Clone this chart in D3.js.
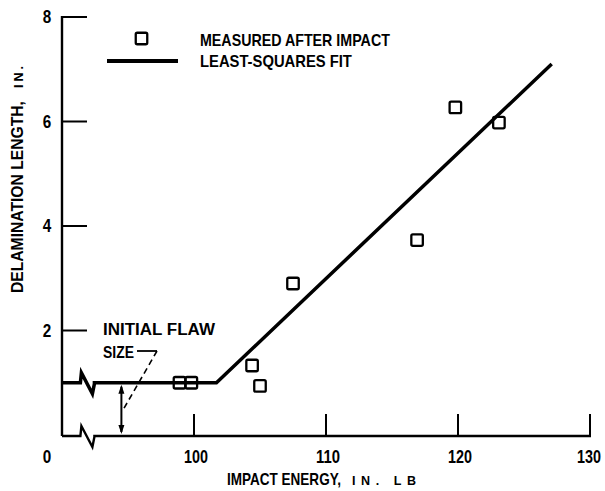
<!DOCTYPE html>
<html><head><meta charset="utf-8">
<script src="https://cdn.jsdelivr.net/npm/d3@7"></script>
<style>
html,body{margin:0;padding:0;background:#fff;}
text{font-family:"Liberation Sans",Arial,sans-serif;fill:#000;}
</style></head>
<body><svg id="c" width="605" height="491"></svg>
<script>
// Data
const energy = [98.9, 99.8, 104.4, 105.0, 107.5, 116.9, 119.8, 123.1];
const delamination = [1.0, 1.0, 1.33, 0.94, 2.9, 3.73, 6.27, 5.98];
const fitEnergy = [101.7, 127.1];
const fitDelam = [1.0, 7.1];
const flawSize = 1.0;
const xTicks = [100, 110, 120, 130];
const yTicks = [2, 4, 6, 8];
const xLabels = ["100", "110", "120", "130"];
const yLabels = ["2", "4", "6", "8"];

const svg = d3.select("#c");
// broken x scale: 0 at origin, 92 inside break, then linear
const x = d3.scaleLinear().domain([0, 92, 130]).range([62, 88.4, 590]);
const y = d3.scaleLinear().domain([0, 8]).range([435, 17]);
const bx = x(92);

function brokenH(yy, xEnd) {
  return `M${x(0)},${yy}H${bx-8}L${bx-7},${yy-10}L${bx+4},${yy+11}L${bx+6},${yy+1}L${bx+6},${yy}H${xEnd}`;
}
// text condensed to a given width via a horizontal scale (keeps real bbox)
function fitText(parent, tx, ty, str, len, size, anchor, rot) {
  const g = parent.append("g").attr("transform", `translate(${tx},${ty})` + (rot ? ` rotate(${rot})` : ""));
  const t = g.append("text").attr("font-size", size).attr("font-weight", "bold")
    .attr("text-anchor", anchor || "start").text(str);
  const w = t.node().getComputedTextLength();
  t.attr("transform", `scale(${len / w},1)`);
  return t;
}
function spacedText(parent, tx, ty, str, len, size, rot) {
  const g = parent.append("g").attr("transform", `translate(${tx},${ty})` + (rot ? ` rotate(${rot})` : ""));
  const t = g.append("text").attr("font-size", size).attr("font-weight", "bold").text(str);
  const w = t.node().getComputedTextLength();
  t.attr("letter-spacing", (len - w) / Math.max(1, str.length - 1));
  return t;
}

// axes
svg.append("path").attr("d", `M${x(0)},${y(8)-1}V${y(0)+1}`)
  .attr("stroke", "#000").attr("stroke-width", 2.4).attr("fill", "none");
svg.append("path").attr("d", brokenH(y(0)+1, x(130)+1))
  .attr("stroke", "#000").attr("stroke-width", 2.4).attr("fill", "none");

// y ticks inward
svg.selectAll(".yt").data(yTicks).enter().append("line")
  .attr("x1", x(0)).attr("x2", x(0)+25).attr("y1", d => y(d)).attr("y2", d => y(d))
  .attr("stroke", "#000").attr("stroke-width", 2);
yTicks.forEach((d, i) => fitText(svg, 47, y(d)+6, yLabels[i], 8.5, 17.5, "middle"));

// x ticks upward
svg.selectAll(".xt").data(xTicks).enter().append("line")
  .attr("x1", d => x(d)).attr("x2", d => x(d)).attr("y1", y(0)+1).attr("y2", y(0)-21)
  .attr("stroke", "#000").attr("stroke-width", 2);
xTicks.forEach((d, i) => fitText(svg, Math.min(x(d)+2, 589), 463, xLabels[i], 24, 17.5, "middle"));
fitText(svg, x(0)-15, 463, "0", 8.5, 17.5, "middle");

// axis titles
fitText(svg, 227, 485, "IMPACT ENERGY,", 114, 16.5);
spacedText(svg, 352, 485, "IN. LB", 64, 12.5);
fitText(svg, 23, 293, "DELAMINATION LENGTH,", 192, 16.5, "start", -90);
spacedText(svg, 23, 88, "IN.", 22, 12.5, -90);

// fit line (with initial flaw segment through the break)
svg.append("path")
  .attr("d", brokenH(y(flawSize), x(fitEnergy[0])) + `L${x(fitEnergy[1])},${y(fitDelam[1])}`)
  .attr("stroke", "#000").attr("stroke-width", 3.5).attr("fill", "none")
  .attr("stroke-linejoin", "miter");

// data squares
const s = 11.5;
svg.selectAll(".pt").data(energy).enter().append("rect")
  .attr("x", d => x(d) - s/2).attr("y", (d, i) => y(delamination[i]) - s/2)
  .attr("width", s).attr("height", s).attr("rx", 1.5)
  .attr("fill", "none").attr("stroke", "#000").attr("stroke-width", 2.3);

// legend
svg.append("rect").attr("x", 141.5 - s/2).attr("y", 38.5 - s/2).attr("width", s).attr("height", s)
  .attr("rx", 1.5).attr("fill", "none").attr("stroke", "#000").attr("stroke-width", 2.3);
svg.append("line").attr("x1", 107).attr("x2", 178).attr("y1", 61).attr("y2", 61)
  .attr("stroke", "#000").attr("stroke-width", 3.8);
fitText(svg, 200, 46, "MEASURED AFTER IMPACT", 190, 16.5);
fitText(svg, 200, 67, "LEAST-SQUARES FIT", 152, 16.5);

// initial flaw annotation
fitText(svg, 103, 335, "INITIAL FLAW", 112, 16.5);
fitText(svg, 103, 358, "SIZE", 31, 16.5);
svg.append("path").attr("d", "M137,351H157").attr("stroke", "#000").attr("stroke-width", 1.8);
svg.append("path").attr("d", "M157,351L123,410").attr("stroke", "#000").attr("stroke-width", 1.6)
  .attr("stroke-dasharray", "6,4").attr("fill", "none");
const ax = x(94.5);
svg.append("line").attr("x1", ax).attr("x2", ax).attr("y1", y(flawSize)+4).attr("y2", y(0)-3)
  .attr("stroke", "#000").attr("stroke-width", 2);
svg.append("path").attr("d", `M${ax},${y(flawSize)+2}l-3,9h6z`).attr("fill", "#000");
svg.append("path").attr("d", `M${ax},${y(0)-1}l-3,-9h6z`).attr("fill", "#000");
</script>
</body></html>
